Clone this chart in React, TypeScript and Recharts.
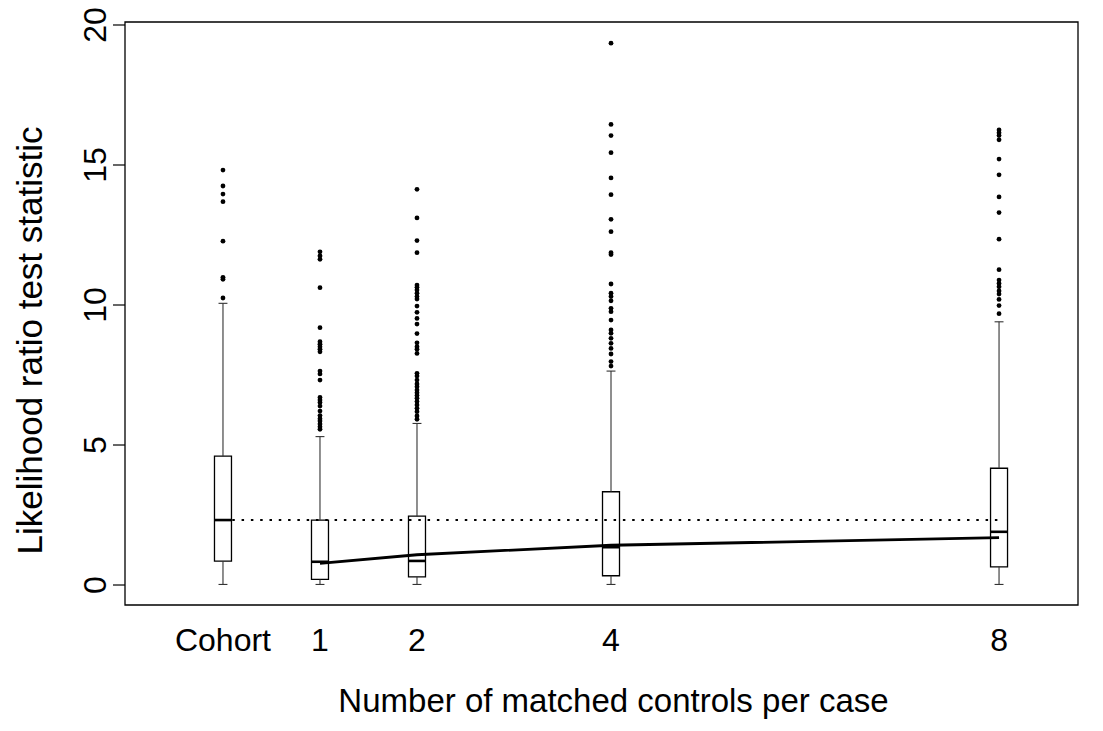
import { ComposedChart, XAxis, YAxis, Scatter, ReferenceArea, ReferenceLine, Label } from 'recharts';

// groups along the x axis (Cohort plotted at 0)
const groups = ['Cohort', '1', '2', '4', '8'];
const groupX = [0, 1, 2, 4, 8];

// box statistics
const whiskerLow = [0.02, 0.02, 0.02, 0.02, 0.02];
const q1 = [0.85, 0.2, 0.29, 0.33, 0.65];
const median = [2.32, 0.83, 0.86, 1.35, 1.9];
const q3 = [4.6, 2.32, 2.46, 3.33, 4.17];
const whiskerHigh = [10.06, 5.3, 5.77, 7.64, 9.4];

const outliersCohort = [10.25, 10.92, 10.99, 12.28, 13.69, 13.96, 14.25, 14.82];
const outliers1 = [5.56, 5.65, 5.75, 5.86, 5.94, 6.05, 6.21, 6.39, 6.52, 6.61, 6.7, 7.32, 7.54, 7.64, 8.33, 8.42, 8.51, 8.6, 8.69, 9.19, 10.62, 11.63, 11.75, 11.9];
const outliers2 = [5.92, 6.04, 6.19, 6.31, 6.43, 6.55, 6.67, 6.77, 6.87, 6.96, 7.08, 7.18, 7.32, 7.46, 7.56, 8.27, 8.42, 8.51, 8.65, 8.98, 9.32, 9.52, 9.74, 9.96, 10.21, 10.3, 10.42, 10.54, 10.63, 10.71, 11.87, 12.3, 13.11, 14.13];
const outliers4 = [7.82, 7.98, 8.25, 8.45, 8.63, 8.81, 8.99, 9.11, 9.46, 9.76, 9.88, 10.15, 10.3, 10.42, 10.75, 11.8, 11.87, 12.62, 13.06, 13.94, 14.54, 15.44, 16.05, 16.45, 19.35];
const outliers8 = [9.69, 9.98, 10.2, 10.39, 10.5, 10.65, 10.77, 10.89, 11.26, 12.35, 13.3, 13.86, 14.65, 15.21, 15.9, 16.05, 16.15, 16.25];

// mean curve for the matched designs
const meanX = [1, 2, 4, 8];
const meanY = [0.77, 1.08, 1.42, 1.69];

// cohort median reference
const refLevel = 2.32;

const yTicks = [0, 5, 10, 15, 20];
const xDomain = [-1.01, 8.814];
const yDomain = [-0.714, 20.107];

const FONT = '"Liberation Sans", Arial, Helvetica, sans-serif';
const BOX_HALF = 0.0876;
const CAP_HALF = 0.046;

const outlierData = [outliersCohort, outliers1, outliers2, outliers4, outliers8].flatMap((vals, i) =>
  vals.map(v => ({ x: groupX[i], y: v }))
);
const meanData = meanX.map((x, i) => ({ x, y: meanY[i] }));

const YTick = ({ x, y, payload }: any) => (
  <text x={x - 5} y={y} transform={`rotate(-90, ${x - 5}, ${y})`} textAnchor="middle"
    fontFamily={FONT} fontSize={32} fill="#000">{payload.value}</text>
);

const XTick = ({ x, y, payload }: any) => {
  const idx = groupX.indexOf(payload.value);
  return (
    <text x={x} y={y + 46} textAnchor="middle" fontFamily={FONT} fontSize={32} fill="#000">
      {idx >= 0 ? groups[idx] : payload.value}
    </text>
  );
};

const Dot = ({ cx, cy }: any) => <circle cx={cx} cy={cy} r={2.4} fill="#000" />;

export default function App() {
  return (
    <ComposedChart width={1087} height={715} margin={{ top: 14, right: 17, bottom: 0, left: 0 }}>
      <XAxis dataKey="x" type="number" domain={xDomain} allowDataOverflow ticks={groupX}
        tick={<XTick />} tickLine={false} tickSize={0} tickMargin={0} height={118}
        axisLine={false} interval={0}>
        <Label content={({ viewBox }: any) => (
          <text x={viewBox.x + viewBox.width / 2 + 12} y={viewBox.y + 107} textAnchor="middle"
            fontFamily={FONT} fontSize={33} fill="#000">Number of matched controls per case</text>
        )} />
      </XAxis>
      <YAxis dataKey="y" type="number" domain={yDomain} allowDataOverflow ticks={yTicks}
        width={117} tickSize={12} tickMargin={2} tick={<YTick />} interval={0}
        tickLine={{ stroke: '#000', strokeWidth: 1.2 }} axisLine={false}>
        <Label content={({ viewBox }: any) => {
          const cx = viewBox.x + 34;
          const cy = viewBox.y + viewBox.height / 2 + 27;
          return (
            <text x={cx} y={cy} transform={`rotate(-90, ${cx}, ${cy})`} textAnchor="middle"
              fontFamily={FONT} fontSize={35} fill="#000">Likelihood ratio test statistic</text>
          );
        }} />
      </YAxis>

      {/* plot frame */}
      <ReferenceArea x1={xDomain[0]} x2={xDomain[1]} y1={yDomain[0]} y2={yDomain[1]}
        fill="none" fillOpacity={0} stroke="#000" strokeWidth={1.3} ifOverflow="visible" />

      {groupX.map((gx, i) => (
        <ReferenceArea key={`box-${i}`} x1={gx - BOX_HALF} x2={gx + BOX_HALF} y1={q1[i]} y2={q3[i]}
          fill="none" fillOpacity={0} stroke="#000" strokeWidth={1.3} />
      ))}
      {groupX.map((gx, i) => (
        <ReferenceLine key={`wl-${i}`} segment={[{ x: gx, y: whiskerLow[i] }, { x: gx, y: q1[i] }]}
          stroke="#333" strokeWidth={1.1} />
      ))}
      {groupX.map((gx, i) => (
        <ReferenceLine key={`wh-${i}`} segment={[{ x: gx, y: q3[i] }, { x: gx, y: whiskerHigh[i] }]}
          stroke="#333" strokeWidth={1.1} />
      ))}
      {groupX.map((gx, i) => (
        <ReferenceLine key={`cl-${i}`} segment={[{ x: gx - CAP_HALF, y: whiskerLow[i] }, { x: gx + CAP_HALF, y: whiskerLow[i] }]}
          stroke="#333" strokeWidth={1.1} />
      ))}
      {groupX.map((gx, i) => (
        <ReferenceLine key={`ch-${i}`} segment={[{ x: gx - CAP_HALF, y: whiskerHigh[i] }, { x: gx + CAP_HALF, y: whiskerHigh[i] }]}
          stroke="#333" strokeWidth={1.1} />
      ))}
      <ReferenceLine segment={[{ x: groupX[0], y: refLevel }, { x: groupX[groupX.length - 1], y: refLevel }]}
        stroke="#000" strokeWidth={2} strokeDasharray="2.5 6.8" />
      {groupX.map((gx, i) => (
        <ReferenceLine key={`md-${i}`} segment={[{ x: gx - BOX_HALF, y: median[i] }, { x: gx + BOX_HALF, y: median[i] }]}
          stroke="#000" strokeWidth={2.6} />
      ))}

      <Scatter data={meanData} line={{ stroke: '#000', strokeWidth: 2.8 }} shape={() => <g />}
        isAnimationActive={false} />
      <Scatter data={outlierData} shape={<Dot />} isAnimationActive={false} />
    </ComposedChart>
  );
}
